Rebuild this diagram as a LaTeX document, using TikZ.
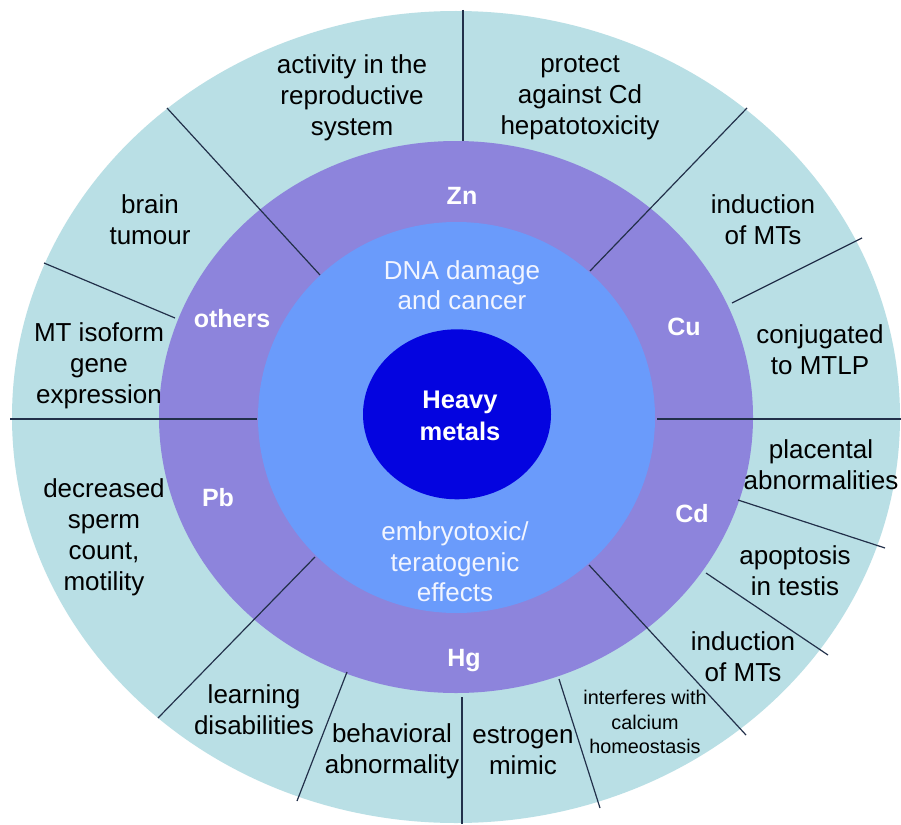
\documentclass[tikz,border=0pt]{standalone}
\usepackage{fontspec}
\setmainfont{Liberation Sans}
\definecolor{outerc}{HTML}{B9DFE5}
\definecolor{purplec}{HTML}{8D84DC}
\definecolor{midc}{HTML}{6A9BFB}
\definecolor{corec}{HTML}{0404E0}
\definecolor{linec}{HTML}{22304A}
\definecolor{softwhite}{HTML}{F2F5FF}
\begin{document}
\begin{tikzpicture}[x=1pt,y=-1pt,
  effect/.style={align=center,inner sep=0pt,text=black,font=\fontsize{26}{31}\selectfont},
  smalleffect/.style={align=center,inner sep=0pt,text=black,font=\fontsize{19.8}{24.5}\selectfont},
  metal/.style={inner sep=0pt,text=white,font=\fontsize{25}{30}\selectfont\bfseries},
  innertext/.style={align=center,inner sep=0pt,text=softwhite,font=\fontsize{26}{30.5}\selectfont},
  coretext/.style={align=center,inner sep=0pt,text=white,font=\fontsize{25.5}{32}\selectfont\bfseries},
  divider/.style={draw=linec,line width=1.2pt}]
\useasboundingbox (0,0) rectangle (901,824);
\clip (0,0) rectangle (901,824);
\fill[white] (0,0) rectangle (901,824);
% rings
\fill[outerc] (456,417) ellipse [x radius=444pt, y radius=406pt];
\fill[purplec] (456,417) ellipse [x radius=297pt, y radius=276pt];
% dividing lines
\coordinate (l1a) at (463,10);  \coordinate (l1b) at (463,141);
\coordinate (l2a) at (167,108); \coordinate (l2b) at (320,275);
\coordinate (l3a) at (44,263);  \coordinate (l3b) at (175,318);
\coordinate (l4a) at (10,419);  \coordinate (l4b) at (257,419);
\coordinate (l5a) at (747,108); \coordinate (l5b) at (590,271);
\coordinate (l6a) at (862,238); \coordinate (l6b) at (732,303);
\coordinate (l7a) at (657,419); \coordinate (l7b) at (901,419);
\coordinate (l8a) at (738,500); \coordinate (l8b) at (885,548);
\coordinate (l9a) at (706,573); \coordinate (l9b) at (828,655);
\coordinate (l10a) at (589,565); \coordinate (l10b) at (746,735);
\coordinate (l11a) at (559,679); \coordinate (l11b) at (600,808);
\coordinate (l12a) at (462,697); \coordinate (l12b) at (462,824);
\coordinate (l13a) at (347,672); \coordinate (l13b) at (297,801);
\coordinate (l14a) at (315,557); \coordinate (l14b) at (158,718);
\foreach \i in {1,...,14} {\draw[divider] (l\i a) -- (l\i b);}
% inner ellipses
\fill[midc] (456.5,417.5) ellipse [x radius=198.5pt, y radius=195.5pt];
\fill[corec] (457,414.3) ellipse [x radius=94pt, y radius=85pt];
% center
\node[coretext] (core) at (460,416) {Heavy\\metals};
\node[innertext] (dna) at (462,285) {DNA damage\\and cancer};
\node[innertext] (embryo) at (455,562) {embryotoxic/\\teratogenic\\effects};
% metals
\node[metal] (zn) at (462,196) {Zn};
\node[metal] (cu) at (684,327) {Cu};
\node[metal] (cd) at (692,514) {Cd};
\node[metal] (hg) at (464,661) {Hg};
\node[metal] (pb) at (218,498) {Pb};
\node[metal] (oth) at (232,319) {others};
% effects
\node[effect] (e1) at (352,98) {activity in the\\reproductive\\system};
\node[effect] (e2) at (580,98) {protect\\against Cd\\hepatotoxicity};
\node[effect] (e3) at (763,220) {induction\\of MTs};
\node[effect] (e4) at (820,350) {conjugated\\to MTLP};
\node[effect] (e5) at (821,465) {placental\\abnormalities};
\node[effect] (e6) at (795,571) {apoptosis\\in testis};
\node[effect] (e7) at (743,657) {induction\\of MTs};
\node[smalleffect] (e8) at (645,722) {interferes with\\calcium\\homeostasis};
\node[effect] (e9) at (523,751) {estrogen\\mimic};
\node[effect] (e10) at (392,751) {behavioral\\abnormality};
\node[effect] (e11) at (254,710) {learning\\disabilities};
\node[effect] (e12) at (104,537) {decreased\\sperm\\count,\\motility};
\node[effect] (e13) at (99,366) {MT isoform\\gene\\expression};
\node[effect] (e14) at (150,220) {brain\\tumour};
\end{tikzpicture}
\end{document}
